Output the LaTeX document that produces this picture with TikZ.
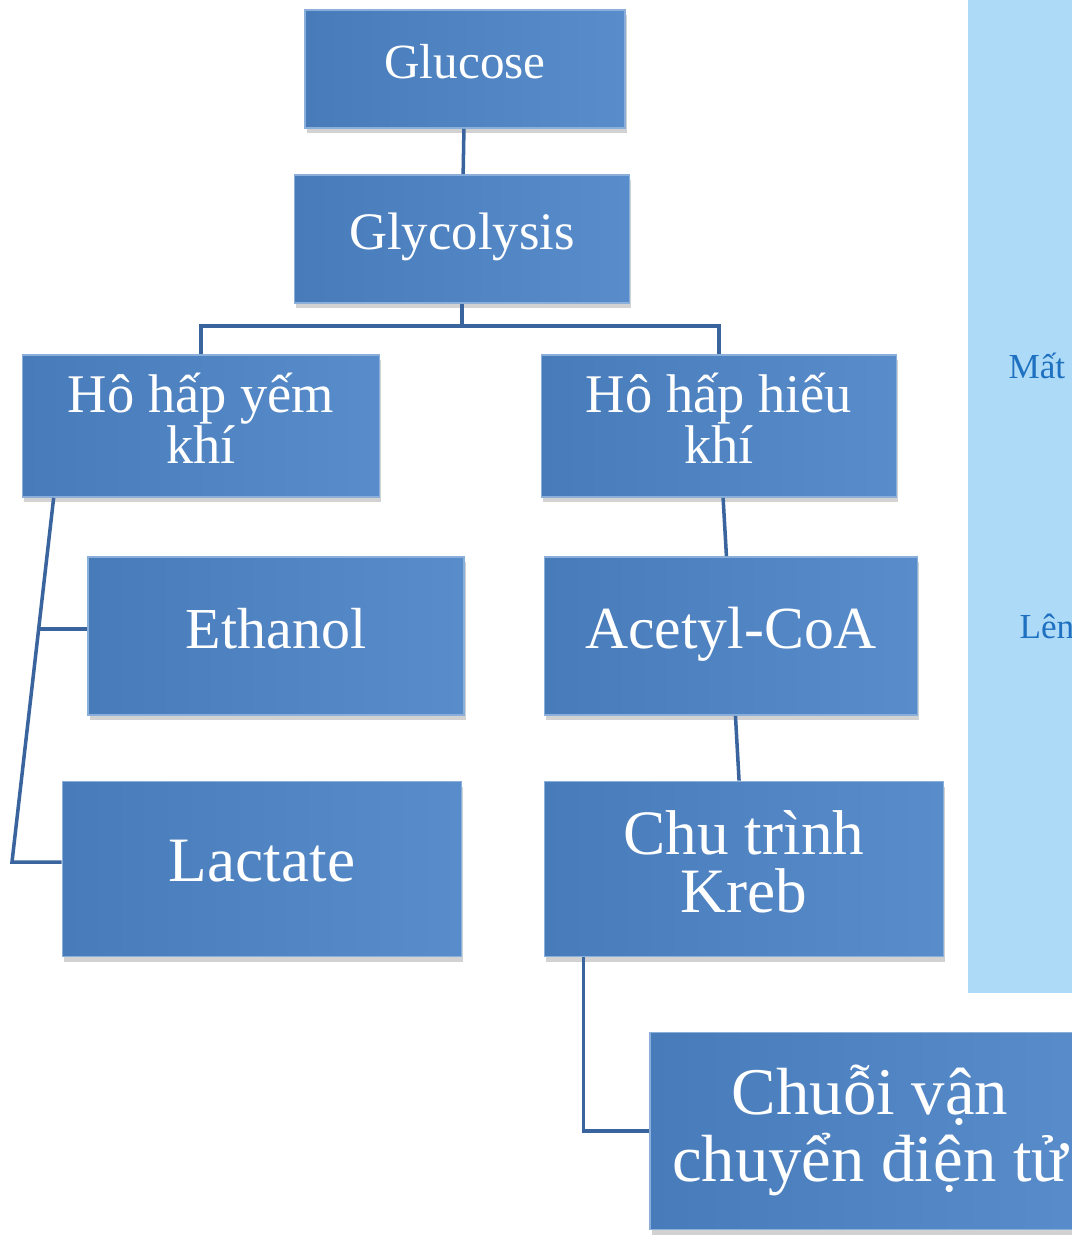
\documentclass[tikz,border=0pt]{standalone}
\usepackage{fontspec}
\setmainfont{Liberation Serif}
\usetikzlibrary{shadows,calc}

\definecolor{boxblue}{RGB}{72,123,185}
\definecolor{boxlight}{RGB}{88,140,202}
\definecolor{linkblue}{RGB}{58,100,158}
\definecolor{panelblue}{RGB}{173,218,247}
\definecolor{paneltext}{RGB}{30,112,192}

\begin{document}
\begin{tikzpicture}[
                        x = 0.02cm,
                        y = -0.02cm,
                        semithick
                        ]

                        \tikzstyle{stage}=[
                                rectangle,
                                left color = boxblue,
                                right color = boxlight,
                                draw = boxlight!70!white,
                                line width = 1pt,
                                text = white,
                                align = center,
                                inner sep = 0pt,
                                text depth = 9pt,
                                drop shadow = {shadow xshift=1pt, shadow yshift=-3pt, opacity=0.35}
                        ]
                        \tikzstyle{link}=[
                                draw = linkblue,
                                line width = 2pt
                        ]
                        \tikzstyle{note}=[
                                text = paneltext,
                                anchor = base west,
                                inner sep = 0pt,
                                font = \fontsize{20}{22}\selectfont
                        ]

                        \clip (0,0) rectangle (1072,1235);
                        \fill[white] (0,0) rectangle (1072,1235);

                        % side panel
                        \fill[panelblue] (968,0) rectangle (1080,993);
                        \node[note] (mat) at (1008,378) {Mất};
                        \node[note] (len) at (1019,638) {Lên};

                        \node[stage, minimum width=6.4cm, minimum height=2.36cm,
                              font=\fontsize{28}{30}\selectfont] (glucose) at (465,69) {Glucose};
                        \node[stage, minimum width=6.7cm, minimum height=2.56cm,
                              font=\fontsize{30}{32}\selectfont] (glycolysis) at (462,239) {Glycolysis};
                        \node[stage, minimum width=7.14cm, minimum height=2.84cm,
                              font=\fontsize{31}{26}\selectfont] (yem) at (201,426) {Hô hấp yếm\\khí};
                        \node[stage, minimum width=7.1cm, minimum height=2.84cm,
                              font=\fontsize{31}{26}\selectfont] (hieu) at (719,426) {Hô hấp hiếu\\khí};
                        \node[stage, minimum width=7.52cm, minimum height=3.16cm,
                              font=\fontsize{33}{36}\selectfont] (ethanol) at (276,636) {Ethanol};
                        \node[stage, minimum width=7.46cm, minimum height=3.16cm,
                              font=\fontsize{34}{36}\selectfont] (acetyl) at (731,636) {Acetyl-CoA};
                        \node[stage, minimum width=7.98cm, minimum height=3.5cm,
                              font=\fontsize{36}{38}\selectfont] (lactate) at (262,869) {Lactate};
                        \node[stage, minimum width=7.98cm, minimum height=3.5cm,
                              font=\fontsize{36}{33}\selectfont] (kreb) at (744,869) {Chu trình\\Kreb};
                        \node[stage, minimum width=8.8cm, minimum height=3.94cm,
                              font=\fontsize{38}{38}\selectfont] (chuoi) at (870,1131) {Chuỗi vận\\chuyển điện tử};

                        % connectors
                        \draw[link] (glucose) -- (glycolysis);
                        \draw[link] (glycolysis.south) -- ++(0,22) -| (yem.north);
                        \draw[link] (glycolysis.south) -- ++(0,22) -| (hieu.north);

                        \coordinate (ytop) at ($(yem.south west)+(32,0)$);
                        \coordinate (ytail) at (12,862);
                        \path (ytop) -- (ytail) coordinate[pos=0.36] (ebranch);
                        \draw[link] (ytop) -- (ytail) -- (ytail -| lactate.west);
                        \draw[link] (ebranch) -- (ebranch -| ethanol.west);

                        \draw[link] (hieu) -- (acetyl);
                        \draw[link] (acetyl) -- (kreb);
                        \draw[link] ($(kreb.south west)+(40,0)$) |- (chuoi.west);
                \end{tikzpicture}
\end{document}
